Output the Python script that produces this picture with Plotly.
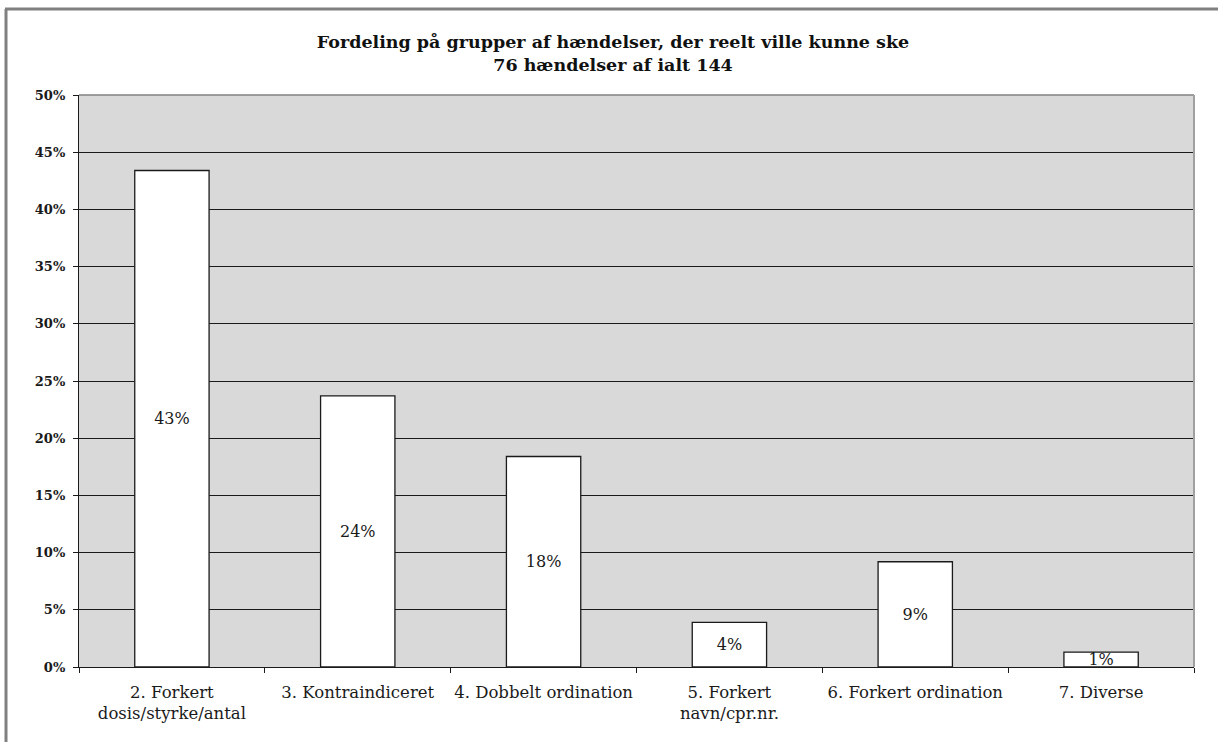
import plotly.graph_objects as go

categories = ["2. Forkert<br>dosis/styrke/antal", "3. Kontraindiceret", "4. Dobbelt ordination",
              "5. Forkert<br>navn/cpr.nr.", "6. Forkert ordination", "7. Diverse"]
values = [43.4, 23.7, 18.4, 3.9, 9.2, 1.3]
labels = [f"{round(v)}%" for v in values]
y_ticks = [0, 5, 10, 15, 20, 25, 30, 35, 40, 45, 50]
title_text = "Fordeling på grupper af hændelser, der reelt ville kunne ske<br>76 hændelser af ialt 144"

FONT = "DejaVu Serif"
DARK = "#1a1a1a"

fig = go.Figure()
fig.add_trace(go.Bar(
    x=categories, y=values, text=labels,
    textposition="inside", insidetextanchor="middle", constraintext="none",
    textfont=dict(family=FONT, size=16, color=DARK),
    marker=dict(color="white", line=dict(color=DARK, width=1.3)),
    hoverinfo="skip",
))

L, R, T, B = 79, 24, 95, 75
W, H = 1218, 742
pw, ph = W - L - R, H - T - B

def px(x):
    return (x - L) / pw

def py(y):
    return (H - B - y) / ph

shapes = [
    # outer frame (left and top)
    dict(type="line", xref="paper", yref="paper", x0=px(6), x1=px(6), y0=py(H + 5), y1=py(9),
         line=dict(color="#808080", width=3)),
    dict(type="line", xref="paper", yref="paper", x0=px(5), x1=px(W + 5), y0=py(9), y1=py(9),
         line=dict(color="#808080", width=3)),
    # plot area top and right border
    dict(type="line", xref="paper", yref="paper", x0=0, x1=1, y0=1, y1=1,
         line=dict(color="#808080", width=1.5), layer="above"),
    dict(type="line", xref="paper", yref="paper", x0=1, x1=1, y0=0, y1=1,
         line=dict(color="#a0a0a0", width=2), layer="above"),
]

fig.update_layout(
    width=W, height=H,
    margin=dict(l=L, r=R, t=T, b=B, autoexpand=False),
    paper_bgcolor="white", plot_bgcolor="#d9d9d9",
    bargap=0.6, showlegend=False,
    title=dict(text=title_text, x=613 / W, xref="container", xanchor="center",
               y=1 - 48 / H, yanchor="top",
               font=dict(family=FONT, size=17.5, color="#111111", weight="bold")),
    font=dict(family=FONT, size=12, color=DARK),
    shapes=shapes,
)
fig.update_xaxes(
    type="category", tickson="boundaries", ticks="outside", ticklen=5, tickcolor=DARK,
    showline=True, linecolor=DARK, linewidth=1.3, showgrid=False, tickangle=0,
    ticklabelstandoff=10,
    tickfont=dict(family=FONT, size=16.5, color=DARK),
)
fig.update_yaxes(
    range=[0, 50], tickvals=y_ticks, ticktext=[f"{t}%" for t in y_ticks],
    ticks="outside", ticklen=5, tickcolor=DARK, ticklabelstandoff=5,
    showline=True, linecolor=DARK, linewidth=1.3,
    showgrid=True, gridcolor=DARK, gridwidth=1, zeroline=False,
    tickfont=dict(family=FONT, size=13, color=DARK, weight="bold"),
)

fig.write_html("out.html", config={"displayModeBar": False},
               post_script="document.body.style.margin='0';")
